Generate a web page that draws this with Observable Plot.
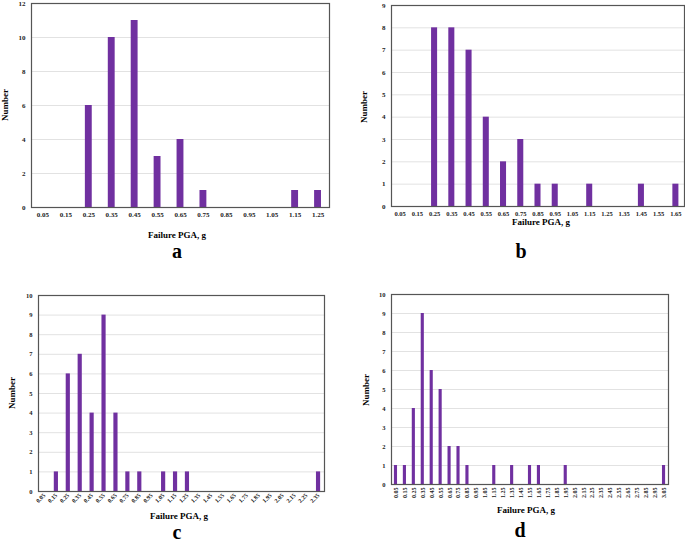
<!DOCTYPE html>
<html><head><meta charset="utf-8">
<script src="https://cdn.jsdelivr.net/npm/d3@7"></script>
<script src="https://cdn.jsdelivr.net/npm/@observablehq/plot@0.6"></script>
<style>
body{margin:0;background:#fff;width:685px;height:542px;position:relative;overflow:hidden;font-family:"Liberation Serif","Times New Roman",serif;}
.p{position:absolute;}
.t{position:absolute;font-weight:bold;font-size:9px;white-space:nowrap;transform:translate(-50%,-50%);}
.v{position:absolute;font-weight:bold;font-size:9px;white-space:nowrap;transform:translate(-50%,-50%) rotate(-90deg);}
.l{position:absolute;font-weight:bold;font-size:20px;line-height:20px;transform:translate(-50%,-50%);}
svg{overflow:visible;}
</style></head><body>
<script>
const catsA = ["0.05","0.15","0.25","0.35","0.45","0.55","0.65","0.75","0.85","0.95","1.05","1.15","1.25"];
const countsA = [0,0,6,10,11,3,4,1,0,0,0,1,1];
const catsB = ["0.05","0.15","0.25","0.35","0.45","0.55","0.65","0.75","0.85","0.95","1.05","1.15","1.25","1.35","1.45","1.55","1.65"];
const countsB = [0,0,8,8,7,4,2,3,1,1,0,1,0,0,1,0,1];
const catsC = ["0.05","0.15","0.25","0.35","0.45","0.55","0.65","0.75","0.85","0.95","1.05","1.15","1.25","1.35","1.45","1.55","1.65","1.75","1.85","1.95","2.05","2.15","2.25","2.35"];
const countsC = [0,1,6,7,4,9,4,1,1,0,1,1,1,0,0,0,0,0,0,0,0,0,0,1];
const catsD = ["0.05","0.15","0.25","0.35","0.45","0.55","0.65","0.75","0.85","0.95","1.05","1.15","1.25","1.35","1.45","1.55","1.65","1.75","1.85","1.95","2.05","2.15","2.25","2.35","2.45","2.55","2.65","2.75","2.85","2.95","3.05"];
const countsD = [1,1,4,9,6,5,2,2,1,0,0,1,0,1,0,1,1,0,0,1,0,0,0,0,0,0,0,0,0,0,1];
const yMax = {a:12, b:9, c:10, d:10};
const yStep = {a:2, b:1, c:1, d:1};
const xTitle = "Failure PGA, g";
const yTitle = "Number";

function panel(cats, counts, key, o){
  const data = cats.map((c,i)=>({c, n: counts[i]}));
  const ticks = d3.range(0, yMax[key] + 0.001, yStep[key]);
  const p = Plot.plot({
    width:o.w, height:o.h,
    marginLeft:o.ml, marginRight:o.mr, marginTop:o.mt, marginBottom:o.mb,
    style:{fontFamily:'"Liberation Serif", serif', fontWeight:"bold", fontSize:o.fs+"px", background:"transparent", color:"#222"},
    x:{domain:cats, paddingInner:o.pad, paddingOuter:o.pad/2, round:false, label:null},
    y:{domain:[0,yMax[key]], label:null},
    marks:[
      Plot.gridY(ticks.filter(t=>t>0), {stroke:"#e2e2e2", strokeOpacity:1}),
      Plot.barY(data, {x:"c", y:"n", fill:"#7030A0"}),
      Plot.frame({stroke:"#555", strokeWidth:1.2}),
      Plot.axisY({ticks, tickSize:0, tickPadding:o.ytp, fontSize:o.yfs+"px", label:null}),
      Plot.axisX({tickSize:0, tickPadding:o.xtp, tickRotate:o.rot, label:null})
    ]
  });
  p.classList.add("p");
  p.style.left = o.x+"px"; p.style.top = o.y+"px";
  document.body.appendChild(p);
}
function txt(cls, s, x, y){
  const d = document.createElement("div"); d.className = cls; d.textContent = s;
  d.style.left = x+"px"; d.style.top = y+"px"; document.body.appendChild(d);
}

panel(catsA, countsA, "a", {x:0,y:0,w:340,h:240,ml:31,mr:11,mt:3,mb:33,pad:0.7,fs:7,yfs:7,ytp:6,xtp:5,rot:0});
panel(catsB, countsB, "b", {x:340,y:0,w:345,h:230,ml:51,mr:1,mt:5,mb:24,pad:0.65,fs:6.5,yfs:7,ytp:6,xtp:5,rot:0});
panel(catsC, countsC, "c", {x:0,y:280,w:340,h:240,ml:38,mr:16,mt:15,mb:29,pad:0.65,fs:6,yfs:6.5,ytp:6,xtp:3,rot:-45});
panel(catsD, countsD, "d", {x:340,y:280,w:345,h:229,ml:51,mr:17,mt:14,mb:25,pad:0.65,fs:6,yfs:6.5,ytp:6,xtp:3,rot:-90});

txt("t", xTitle, 177, 235); txt("l", "a", 177, 251);
txt("t", xTitle, 541, 222); txt("l", "b", 521, 251);
txt("t", xTitle, 179, 516); txt("l", "c", 177, 532);
txt("t", xTitle, 526, 510); txt("l", "d", 520, 530);
txt("v", yTitle, 5, 105); txt("v", yTitle, 364, 107);
txt("v", yTitle, 12, 393); txt("v", yTitle, 366, 390);
</script>
</body></html>
